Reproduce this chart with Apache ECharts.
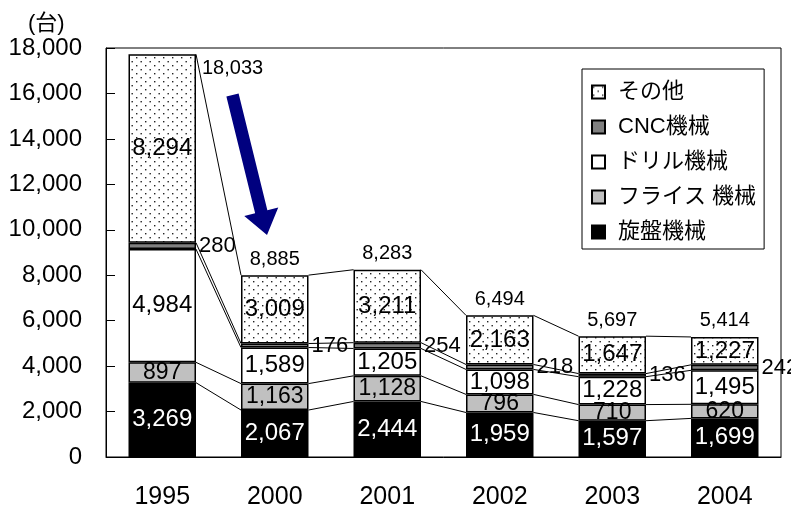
<!DOCTYPE html>
<html>
<head>
<meta charset="utf-8">
<script src="https://cdn.jsdelivr.net/npm/echarts@6/dist/echarts.min.js"></script>
<style>
  html, body { margin: 0; padding: 0; background: #fff; }
  #chart { width: 791px; height: 512px; }
</style>
</head>
<body>
<div id="chart"></div>
<script>
// Machine-tool unit counts by type, stacked per year (units: 台)
const years    = ['1995', '2000', '2001', '2002', '2003', '2004'];
const lathe    = [3269, 2067, 2444, 1959, 1597, 1699];   // 旋盤機械
const milling  = [897, 1163, 1128, 796, 710, 620];       // フライス機械
const drill    = [4984, 1589, 1205, 1098, 1228, 1495];   // ドリル機械
const cnc      = [280, 176, 254, 218, 136, 242];         // CNC機械
const other    = [8294, 3009, 3211, 2163, 1647, 1227];   // その他
const totals   = [18033, 8885, 8283, 6494, 5697, 5414];  // stated totals
const yMin = 0, yMax = 18000, yStep = 2000;

const FONT = '"Liberation Sans", Arial, "Noto Sans CJK JP", sans-serif';
const fmt = v => Number(v).toLocaleString('en-US');

// dotted fill for "その他"
function dotPattern() {
  const c = document.createElement('canvas');
  c.width = 9; c.height = 8;
  const g = c.getContext('2d');
  g.fillStyle = '#fff';
  g.fillRect(0, 0, 9, 8);
  g.fillStyle = '#222';
  g.fillRect(1, 1, 1.4, 1.4);
  g.fillRect(5.5, 5, 1.4, 1.4);
  return c;
}

const chart = echarts.init(document.getElementById('chart'), null, { renderer: 'canvas' });

// stack layers from bottom to top
const layers = [lathe, milling, drill, cnc, other];
const cum = [];
layers.forEach((arr, l) => {
  cum.push(arr.map((v, i) => v + (l > 0 ? cum[l - 1][i] : 0)));
});

// connector segments between neighbouring bars at every stack boundary
const connectors = [];
cum.forEach(level => {
  for (let i = 0; i < years.length - 1; i++) connectors.push([i, level[i], level[i + 1]]);
});
const topOfStack = cum[cum.length - 1];
const totalData = years.map((_, i) => [i, topOfStack[i], totals[i]]);

const barBorder = { borderColor: '#000', borderWidth: 1.5 };
const inLabel = (color, size) => ({
  show: true, position: 'inside', color: color, fontSize: size, fontFamily: FONT,
  formatter: p => fmt(p.value)
});

// navy arrow
const aTop = [232.5, 95], aTip = [267, 235];
const dx = aTip[0] - aTop[0], dy = aTip[1] - aTop[1];
const len = Math.hypot(dx, dy);
const u = [dx / len, dy / len], n = [u[1], -u[0]];
const base = [aTip[0] - 24 * u[0], aTip[1] - 24 * u[1]];
const off = (p, k) => [p[0] + k * n[0], p[1] + k * n[1]];
const arrowPts = [off(aTop, 6.3), off(base, 6.3), off(base, 17.5), aTip,
                  off(base, -17.5), off(base, -6.3), off(aTop, -6.3)];

chart.setOption({
  animation: false,
  backgroundColor: '#fff',
  grid: { left: 106, right: 10, top: 48, bottom: 55, show: true, borderColor: '#000', borderWidth: 1 },
  legend: {
    orient: 'vertical',
    left: 582, top: 69,
    data: ['その他', 'CNC機械', 'ドリル機械', 'フライス 機械', '旋盤機械'],
    icon: 'rect',
    itemWidth: 13, itemHeight: 13,
    itemGap: 11,
    padding: [11, 8, 5, 9],
    borderColor: '#000', borderWidth: 1,
    backgroundColor: '#fff',
    textStyle: { fontSize: 22, color: '#000', fontFamily: FONT, lineHeight: 24, padding: [0, 0, 0, 8] }
  },
  xAxis: {
    type: 'category',
    data: years,
    axisLine: { lineStyle: { color: '#000', width: 1 } },
    axisTick: { inside: true, length: 8, lineStyle: { color: '#000' } },
    axisLabel: { fontSize: 25, color: '#000', fontFamily: FONT, margin: 28 }
  },
  yAxis: {
    type: 'value',
    min: yMin, max: yMax, interval: yStep,
    axisLine: { show: true, lineStyle: { color: '#000', width: 1 } },
    axisTick: { show: true, inside: true, length: 9, lineStyle: { color: '#000' } },
    splitLine: { show: false },
    axisLabel: { fontSize: 24, color: '#000', fontFamily: FONT, margin: 24,
                 padding: [8, 0, 0, 0], formatter: v => fmt(v) }
  },
  graphic: [
    { type: 'text', left: 28, top: 13, style: { text: '(台)', font: '22px ' + FONT, fill: '#000' } },
    { type: 'polygon', shape: { points: arrowPts }, style: { fill: '#00007f' }, z: 20 }
  ],
  series: [
    {
      name: '旋盤機械', type: 'bar', stack: 'total', data: lathe, barCategoryGap: '40%',
      itemStyle: Object.assign({ color: '#000' }, barBorder),
      label: inLabel('#fff', 24), z: 3
    },
    {
      name: 'フライス 機械', type: 'bar', stack: 'total', data: milling,
      itemStyle: Object.assign({ color: '#c0c0c0' }, barBorder),
      label: inLabel('#000', 23), z: 3
    },
    {
      name: 'ドリル機械', type: 'bar', stack: 'total', data: drill,
      itemStyle: Object.assign({ color: '#fff' }, barBorder),
      label: inLabel('#000', 24), z: 3
    },
    {
      name: 'CNC機械', type: 'bar', stack: 'total', data: cnc,
      itemStyle: Object.assign({ color: '#808080' }, barBorder),
      label: { show: true, position: 'right', distance: 3, color: '#000', fontSize: 22,
               fontFamily: FONT, formatter: p => fmt(p.value) }, z: 3
    },
    {
      name: 'その他', type: 'bar', stack: 'total', data: other,
      itemStyle: Object.assign({ color: { image: dotPattern(), repeat: 'repeat' } }, barBorder),
      label: inLabel('#000', 24), z: 3
    },
    {
      // thin lines joining the same stack boundary on adjacent bars
      name: 'connectors', type: 'custom', data: connectors, silent: true, z: 1,
      encode: { x: 0, y: 1 },
      renderItem: (params, api) => {
        const i = api.value(0);
        const p0 = api.coord([i, api.value(1)]);
        const p1 = api.coord([i + 1, api.value(2)]);
        const half = api.size([1, 0])[0] * 0.3;
        return {
          type: 'line',
          shape: { x1: p0[0] + half, y1: p0[1], x2: p1[0] - half, y2: p1[1] },
          style: { stroke: '#000', lineWidth: 1 }
        };
      }
    },
    {
      // yearly totals printed above each stack
      name: 'totals', type: 'custom', data: totalData, silent: true, z: 5,
      encode: { x: 0, y: 1 },
      renderItem: (params, api) => {
        const i = api.value(0);
        const p = api.coord([i, api.value(1)]);
        const half = api.size([1, 0])[0] * 0.3;
        const first = i === 0;
        return {
          type: 'text',
          x: first ? p[0] + half + 6 : p[0],
          y: first ? p[1] + 14 : p[1] - 6,
          style: {
            text: fmt(api.value(2)),
            font: '20px ' + FONT,
            fill: '#000',
            textAlign: first ? 'left' : 'center',
            textVerticalAlign: first ? 'middle' : 'bottom'
          }
        };
      }
    }
  ]
});
</script>
</body>
</html>
